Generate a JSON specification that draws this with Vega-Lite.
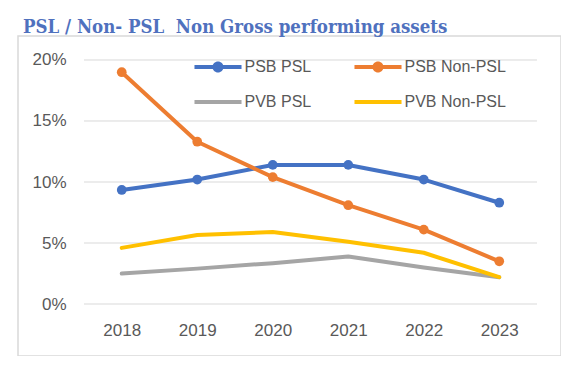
{
  "$schema": "https://vega.github.io/schema/vega-lite/v6.json",
  "width": 543,
  "height": 320,
  "autosize": {"type": "none"},
  "padding": {"left": 18, "top": 36, "right": 0, "bottom": 0},
  "background": "white",
  "title": {
    "text": "PSL / Non- PSL\u00a0 Non Gross performing assets",
    "frame": "group",
    "anchor": "start",
    "orient": "top",
    "baseline": "alphabetic",
    "offset": -15,
    "dx": 5,
    "font": "DejaVu Serif Condensed",
    "fontSize": 18.5,
    "fontWeight": "bold",
    "color": "#4f71be"
  },
  "config": {
    "view": {"stroke": "#d9d9d9", "strokeWidth": 1.5},
    "axis": {"labelFont": "Liberation Sans", "labelFontSize": 17, "labelColor": "#595959", "domain": false, "ticks": false, "grid": false, "title": null}
  },
  "datasets": {
    "series": [
      {"year": 2018, "series": "PSB PSL", "value": 0.0935},
      {"year": 2019, "series": "PSB PSL", "value": 0.102},
      {"year": 2020, "series": "PSB PSL", "value": 0.114},
      {"year": 2021, "series": "PSB PSL", "value": 0.114},
      {"year": 2022, "series": "PSB PSL", "value": 0.102},
      {"year": 2023, "series": "PSB PSL", "value": 0.083},
      {"year": 2018, "series": "PSB Non-PSL", "value": 0.190},
      {"year": 2019, "series": "PSB Non-PSL", "value": 0.133},
      {"year": 2020, "series": "PSB Non-PSL", "value": 0.104},
      {"year": 2021, "series": "PSB Non-PSL", "value": 0.081},
      {"year": 2022, "series": "PSB Non-PSL", "value": 0.061},
      {"year": 2023, "series": "PSB Non-PSL", "value": 0.035},
      {"year": 2018, "series": "PVB PSL", "value": 0.025},
      {"year": 2019, "series": "PVB PSL", "value": 0.029},
      {"year": 2020, "series": "PVB PSL", "value": 0.0335},
      {"year": 2021, "series": "PVB PSL", "value": 0.039},
      {"year": 2022, "series": "PVB PSL", "value": 0.030},
      {"year": 2023, "series": "PVB PSL", "value": 0.022},
      {"year": 2018, "series": "PVB Non-PSL", "value": 0.046},
      {"year": 2019, "series": "PVB Non-PSL", "value": 0.0565},
      {"year": 2020, "series": "PVB Non-PSL", "value": 0.059},
      {"year": 2021, "series": "PVB Non-PSL", "value": 0.051},
      {"year": 2022, "series": "PVB Non-PSL", "value": 0.042},
      {"year": 2023, "series": "PVB Non-PSL", "value": 0.022}
    ],
    "grid": [
      {"tick": 0}, {"tick": 0.05}, {"tick": 0.1}, {"tick": 0.15}, {"tick": 0.2}
    ]
  },
  "layer": [
    {
      "data": {"name": "grid"},
      "mark": {"type": "rule", "color": "#d9d9d9", "strokeWidth": 1},
      "encoding": {
        "y": {"field": "tick", "type": "quantitative", "scale": {"domain": [-0.04262, 0.21967], "nice": false, "zero": false},
              "axis": {"orient": "left", "values": [0, 0.05, 0.1, 0.15, 0.2], "format": ".0%", "offset": -48, "labelPadding": 0}},
        "x": {"datum": 2017.5, "type": "quantitative", "scale": {"domain": [2016.626, 2023.818], "nice": false, "zero": false},
              "axis": {"orient": "bottom", "values": [2018, 2019, 2020, 2021, 2022, 2023], "format": "d", "offset": -36, "labelPadding": 2}},
        "x2": {"datum": 2023.5}
      }
    },
    {
      "data": {"name": "series"},
      "mark": {"type": "line", "strokeWidth": 4, "strokeCap": "round", "strokeJoin": "round"},
      "encoding": {
        "x": {"field": "year", "type": "quantitative"},
        "y": {"field": "value", "type": "quantitative"},
        "color": {
          "field": "series", "type": "nominal",
          "scale": {"domain": ["PSB PSL", "PSB Non-PSL", "PVB PSL", "PVB Non-PSL"], "range": ["#4472c4", "#ed7d31", "#a5a5a5", "#ffc000"]},
          "legend": {
            "title": null, "orient": "none", "direction": "horizontal", "legendX": 192, "legendY": 23, "columns": 2, "padding": 0,
            "symbolSize": 256, "labelOffset": 18.5, "columnPadding": 42, "rowPadding": 19,
            "labelFont": "Liberation Sans", "labelFontSize": 16, "labelColor": "#595959", "labelLimit": 300,
            "encode": {
              "symbols": {
                "update": {
                  "shape": {"signal": "indexof(['PSB PSL','PSB Non-PSL'], datum.value) >= 0 ? 'M-2.94,-0.25H2.94V0.25H-2.94Z M-0.69,0A0.69,0.69 0 1,1 0.69,0A0.69,0.69 0 1,1 -0.69,0Z' : 'M-2.94,-0.25H2.94V0.25H-2.94Z'"},
                  "fill": {"scale": "color", "field": "value"},
                  "stroke": {"value": "transparent"},
                  "strokeWidth": {"value": 0},
                  "opacity": {"value": 1}
                }
              }
            }
          }
        }
      }
    },
    {
      "data": {"name": "series"},
      "transform": [{"filter": "indexof(['PSB PSL','PSB Non-PSL'], datum.series) >= 0"}],
      "mark": {"type": "circle", "size": 95, "opacity": 1},
      "encoding": {
        "x": {"field": "year", "type": "quantitative"},
        "y": {"field": "value", "type": "quantitative"},
        "color": {"field": "series", "type": "nominal", "legend": null}
      }
    }
  ]
}
